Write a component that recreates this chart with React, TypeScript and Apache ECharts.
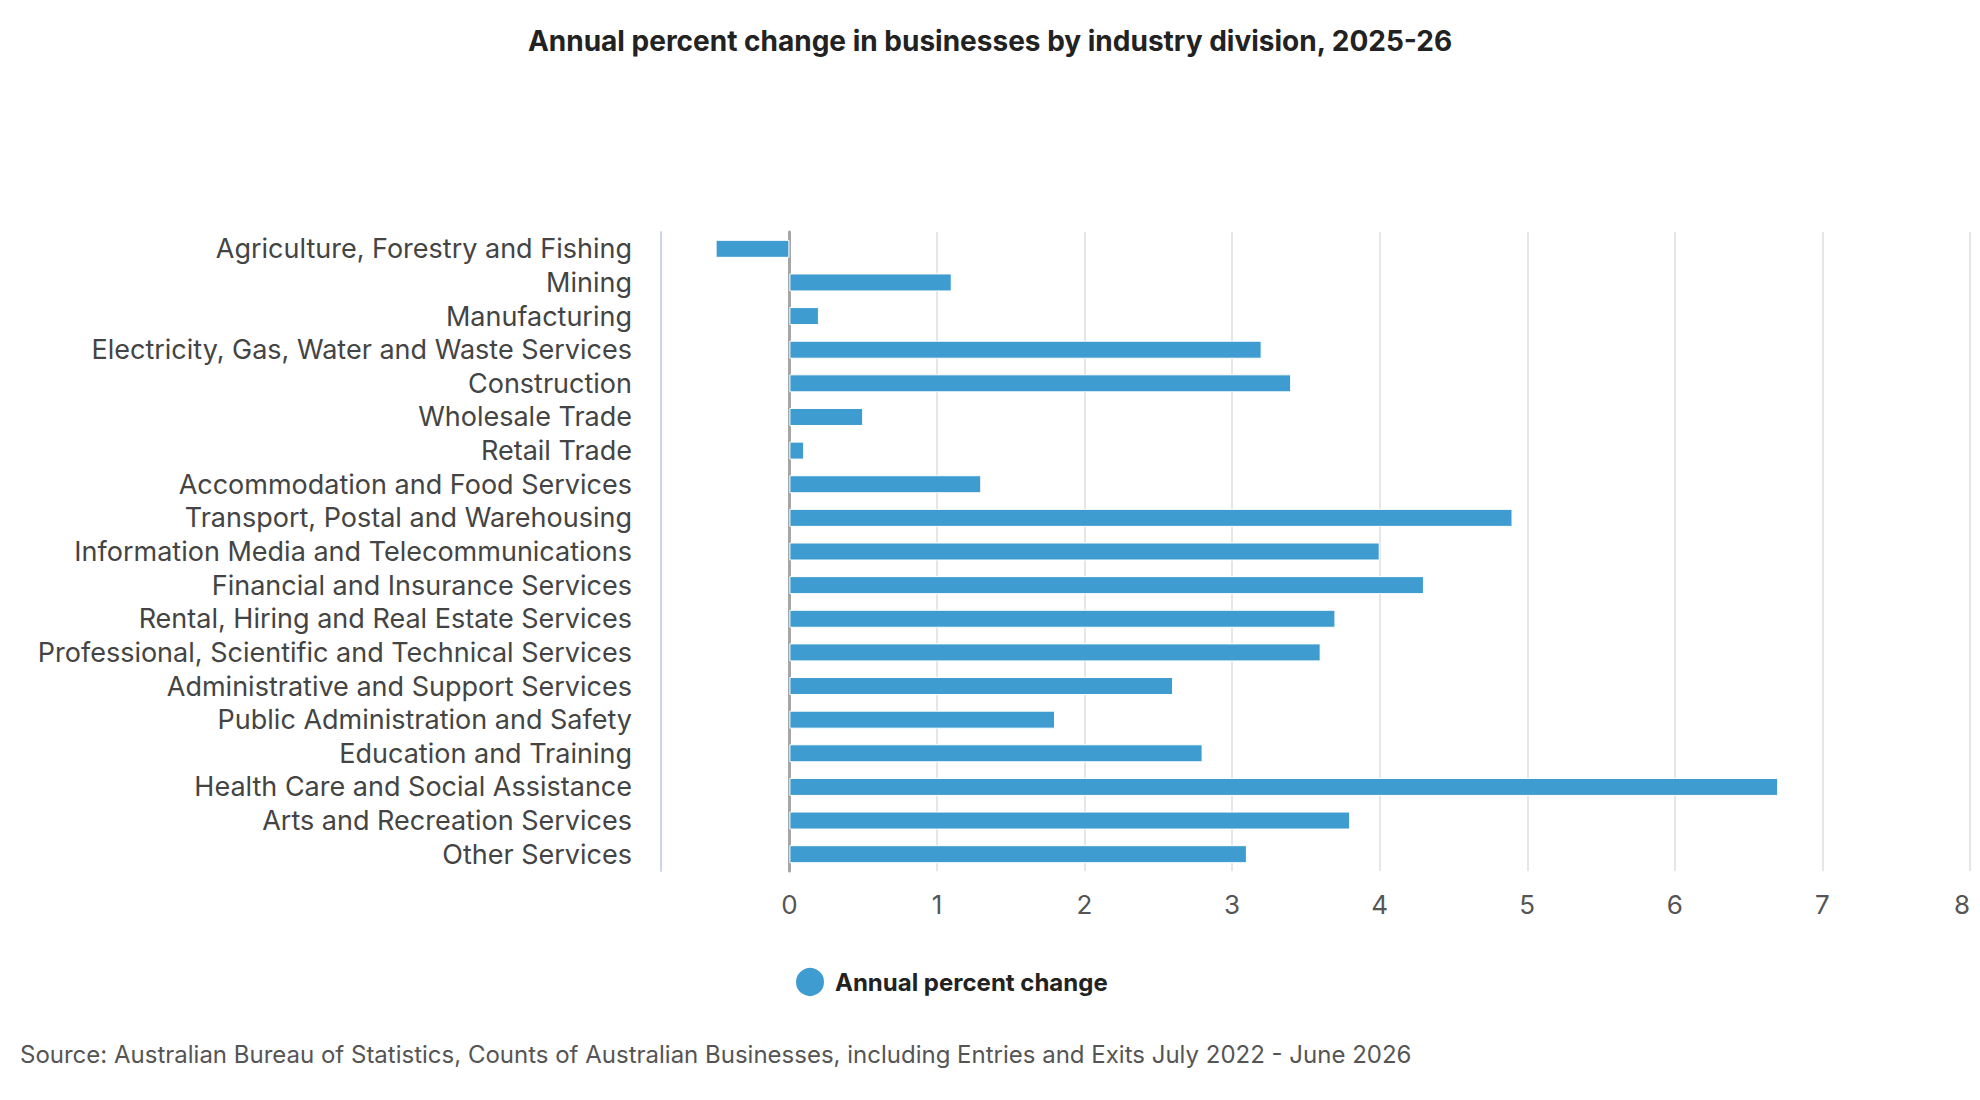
import { useEffect, useRef } from 'react';
import * as echarts from 'echarts';

const industries = [
  'Agriculture, Forestry and Fishing',
  'Mining',
  'Manufacturing',
  'Electricity, Gas, Water and Waste Services',
  'Construction',
  'Wholesale Trade',
  'Retail Trade',
  'Accommodation and Food Services',
  'Transport, Postal and Warehousing',
  'Information Media and Telecommunications',
  'Financial and Insurance Services',
  'Rental, Hiring and Real Estate Services',
  'Professional, Scientific and Technical Services',
  'Administrative and Support Services',
  'Public Administration and Safety',
  'Education and Training',
  'Health Care and Social Assistance',
  'Arts and Recreation Services',
  'Other Services',
];

const annualChange = [
  -0.5, 1.1, 0.2, 3.2, 3.4, 0.5, 0.1, 1.3, 4.9, 4.0, 4.3, 3.7, 3.6, 2.6, 1.8, 2.8, 6.7, 3.8, 3.1,
];

const seriesName = 'Annual percent change';
const chartTitle = 'Annual percent change in businesses by industry division, 2025-26';
const sourceNote =
  'Source: Australian Bureau of Statistics, Counts of Australian Businesses, including Entries and Exits July 2022 - June 2026';

const FONT = 'Inter, "Noto Sans", sans-serif';

export default function App() {
  const chartRef = useRef<HTMLDivElement>(null);

  useEffect(() => {
    if (!chartRef.current) return;
    const chart = echarts.init(chartRef.current, null, { renderer: 'svg' });

    const option = {
      animation: false,
      backgroundColor: '#ffffff',
      textStyle: { fontFamily: FONT },
      title: {
        text: chartTitle,
        left: 'center',
        top: 22,
        textStyle: { fontSize: 28, fontWeight: 'bold', color: '#222222', fontFamily: FONT },
      },
      legend: {
        data: [seriesName],
        left: 789,
        top: 961,
        icon: 'circle',
        itemWidth: 30,
        itemHeight: 30,
        selectedMode: false,
        textStyle: {
          fontSize: 24,
          fontWeight: 'bold',
          color: '#222222',
          fontFamily: FONT,
          padding: [0, 0, 0, 5],
        },
      },
      graphic: [
        {
          type: 'text',
          left: 20,
          top: 1042,
          style: {
            text: sourceNote,
            fontSize: 24,
            fill: '#555555',
            fontFamily: FONT,
          },
        },
      ],
      grid: {
        left: 661,
        right: 10,
        top: 232,
        bottom: 229,
        containLabel: false,
      },
      xAxis: {
        type: 'value',
        min: -0.87,
        max: 8,
        minInterval: 1,
        maxInterval: 1,
        axisLine: { show: false },
        axisTick: { show: false },
        splitLine: { show: true, lineStyle: { color: '#e6e6e6', width: 2 } },
        axisLabel: {
          fontSize: 26,
          color: '#555555',
          margin: 20,
          fontFamily: FONT,
          alignMaxLabel: 'right',
          formatter: (v: number) => (v < 0 ? '' : String(v)),
        },
      },
      yAxis: [
        {
          type: 'category',
          data: industries,
          inverse: true,
          axisLine: { show: true, onZero: false, lineStyle: { color: '#ccd6eb', width: 2 } },
          axisTick: { show: false },
          axisLabel: {
            interval: 0,
            fontSize: 27,
            lineHeight: 30,
            color: '#444444',
            margin: 29,
            fontFamily: FONT,
          },
        },
        {
          type: 'category',
          data: industries,
          inverse: true,
          axisLine: { show: true, onZero: true, lineStyle: { color: '#a6a6a6', width: 3 } },
          axisTick: { show: false },
          axisLabel: { show: false },
        },
      ],
      series: [
        {
          name: seriesName,
          type: 'bar',
          data: annualChange,
          barWidth: 18,
          itemStyle: { color: '#3e9cd0', borderColor: '#ffffff', borderWidth: 1 },
        },
      ],
    };

    chart.setOption(option);
    return () => {
      chart.dispose();
    };
  }, []);

  return (
    <div
      ref={chartRef}
      style={{ position: 'fixed', left: 0, top: 0, width: 1980, height: 1100 }}
    ></div>
  );
}
